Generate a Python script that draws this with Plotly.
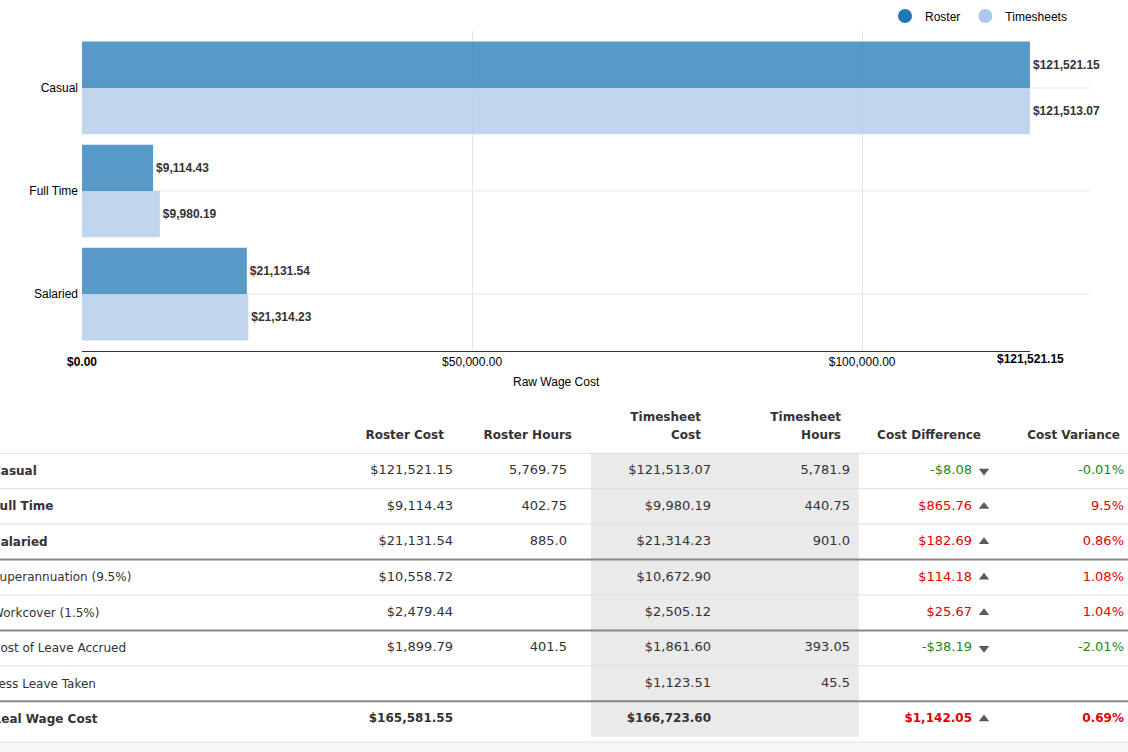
import plotly.graph_objects as go

# ---------------- data ----------------
categories = ["Casual", "Full Time", "Salaried"]
roster = [121521.15, 9114.43, 21131.54]
timesheets = [121513.07, 9980.19, 21314.23]
x_ticks = [0, 50000, 100000]

row_labels = ["Casual", "Full Time", "Salaried", "Superannuation (9.5%)",
              "Workcover (1.5%)", "Cost of Leave Accrued", "Less Leave Taken",
              "Real Wage Cost"]
label_bold = [True, True, True, False, False, False, False, True]
total_row = [False, False, False, False, False, False, False, True]
roster_cost = [121521.15, 9114.43, 21131.54, 10558.72, 2479.44, 1899.79, None, 165581.55]
roster_hours = [5769.75, 402.75, 885.0, None, None, 401.5, None, None]
timesheet_cost = [121513.07, 9980.19, 21314.23, 10672.90, 2505.12, 1861.60, 1123.51, 166723.60]
timesheet_hours = [5781.9, 440.75, 901.0, None, None, 393.05, 45.5, None]
cost_diff = [-8.08, 865.76, 182.69, 114.18, 25.67, -38.19, None, 1142.05]
cost_variance = [-0.01, 9.5, 0.86, 1.08, 1.04, -2.01, None, 0.69]
header_line1 = ["", "", "Timesheet", "Timesheet", "", ""]
header_line2 = ["Roster Cost", "Roster Hours", "Cost", "Hours", "Cost Difference", "Cost Variance"]
group_breaks = [2, 4, 6]

# ---------------- layout constants ----------------
W, H = 1128, 752
FONT_CHART = "Liberation Sans, Arial, sans-serif"
FONT_TABLE = "DejaVu Sans, Verdana, sans-serif"
TXT = "#333333"
RED = "#e00000"
GREEN = "#1a8a1a"


def fx(p):
    return p / W


def fy(p):
    return 1 - p / H


def money(v):
    if v is None:
        return ""
    return f"${v:,.2f}" if v >= 0 else f"-${-v:,.2f}"


def hours(v):
    return "" if v is None else f"{v:,}"


def pct(v):
    return "" if v is None else f"{v:g}%"


fig = go.Figure()

# ---------------- bar chart ----------------
for nm, vals, col in [("Roster", roster, "#1f77b4"), ("Timesheets", timesheets, "#aec7e8")]:
    fig.add_trace(go.Bar(
        y=categories, x=vals, orientation="h", name=nm,
        marker=dict(color=col, opacity=0.75, line=dict(width=0)),
        texttemplate="<b>%{x:$,.2f}</b>", textposition="outside",
        textfont=dict(family=FONT_CHART, size=12, color=TXT),
        cliponaxis=False, constraintext="none", showlegend=False, hoverinfo="x",
    ))
for nm, col in [("Roster", "#1f77b4"), ("Timesheets", "#aec7e8")]:
    fig.add_trace(go.Scatter(x=[None], y=[None], mode="markers", name=nm,
                             marker=dict(symbol="circle", size=14, color=col)))

max_val = max(roster + timesheets)
ncat = len(categories)

shapes = []
for c in categories:
    shapes.append(dict(type="line", xref="paper", yref="y", x0=fx(82), x1=fx(1090),
                       y0=c, y1=c, line=dict(color="#e5e5e5", width=1), layer="below"))

annotations = [
    dict(x=max_val, xref="x", y=fy(359), yref="paper", text=f"<b>{money(max_val)}</b>",
         showarrow=False, font=dict(family=FONT_CHART, size=12, color="#000"),
         xanchor="center", yanchor="middle"),
    dict(x=0.5, xref="x domain", y=fy(382), yref="paper", text="Raw Wage Cost",
         showarrow=False, font=dict(family=FONT_CHART, size=12, color="#000"),
         xanchor="center", yanchor="middle"),
]

# ---------------- table ----------------
n = len(row_labels)
rows = list(range(n))


def bold(t, b):
    return f"<b>{t}</b>" if (b and t) else t


def add_text(xpos, texts, colors=None, sizes=None, pos="middle left", yvals=None):
    yv = rows if yvals is None else yvals
    fig.add_trace(go.Scatter(
        x=[xpos] * len(texts), y=yv, mode="text", text=texts, textposition=pos,
        textfont=dict(family=FONT_TABLE, size=sizes if sizes is not None else 13,
                      color=colors if colors is not None else TXT),
        xaxis="x2", yaxis="y2", showlegend=False, hoverinfo="skip", cliponaxis=False,
    ))


num_sizes = [12 if b else 13 for b in total_row]

# row labels: the page is scrolled so their first letter sits past the left edge
for i, (t, b) in enumerate(zip(row_labels, label_bold)):
    annotations.append(dict(
        x=0, xref="x2", y=i, yref="y2", text=bold(t, b), showarrow=False,
        xanchor="left", yanchor="middle", xshift=-10.5,
        font=dict(family=FONT_TABLE, size=12, color=TXT)))

add_text(453, [bold(money(v), b) for v, b in zip(roster_cost, total_row)], sizes=num_sizes)
add_text(567, [hours(v) for v in roster_hours])
add_text(711, [bold(money(v), b) for v, b in zip(timesheet_cost, total_row)], sizes=num_sizes)
add_text(850, [hours(v) for v in timesheet_hours])
add_text(972, [bold(money(v), b) for v, b in zip(cost_diff, total_row)],
         colors=[(GREEN if (v is not None and v < 0) else RED) for v in cost_diff],
         sizes=num_sizes)
add_text(1124, [bold(pct(v), b) for v, b in zip(cost_variance, total_row)],
         colors=[(GREEN if (v is not None and v < 0) else RED) for v in cost_variance],
         sizes=num_sizes)

# arrows
arrow_rows = [i for i, v in enumerate(cost_diff) if v is not None]
fig.add_trace(go.Scatter(
    x=[984] * len(arrow_rows), y=arrow_rows, mode="markers",
    marker=dict(symbol=["triangle-down" if cost_diff[i] < 0 else "triangle-up" for i in arrow_rows],
                size=9, color="#5a5a5a"),
    xaxis="x2", yaxis="y2", showlegend=False, hoverinfo="skip",
))

# headers
header_x = [444, 572, 701, 841, 981, 1120]
for hx, l1, l2 in zip(header_x, header_line1, header_line2):
    add_text(hx, [f"<b>{l2}</b>"], sizes=12, yvals=[-1])
    if l1:
        add_text(hx, [f"<b>{l1}</b>"], sizes=12, yvals=[-1.5])

# shaded timesheet columns
shapes.append(dict(type="rect", xref="x2", yref="y2", x0=591, x1=859, y0=-0.5, y1=n - 0.5,
                   fillcolor="#eaeaea", line=dict(width=0), layer="below"))
# bottom strip
shapes.append(dict(type="rect", xref="paper", yref="y2", x0=0, x1=1, y0=n - 0.35, y1=n + 2,
                   fillcolor="#f6f7f8", line=dict(width=0), layer="below"))
# row separators
for i in range(-1, n - 1):
    thick = i in group_breaks
    shapes.append(dict(type="line", xref="paper", yref="y2", x0=0, x1=1, y0=i + 0.5, y1=i + 0.5,
                       line=dict(color="#888888" if thick else "#dddddd", width=2 if thick else 1)))
shapes.append(dict(type="line", xref="paper", yref="y2", x0=0, x1=1, y0=n - 0.35, y1=n - 0.35,
                   line=dict(color="#dde1e4", width=1)))

row_px = 35.43
first_row_px = 471
tbl_top_px = 400

fig.update_layout(
    width=W, height=H, margin=dict(l=0, r=0, t=0, b=0, autoexpand=False),
    paper_bgcolor="white", plot_bgcolor="white",
    barmode="group", bargap=0.1, bargroupgap=0,
    font=dict(family=FONT_CHART, size=12, color="#000"),
    xaxis=dict(domain=[fx(82), fx(1030)], range=[0, max_val], anchor="y", automargin=False,
               tickvals=x_ticks,
               ticktext=[f"<b>{money(v)}</b>" if v == 0 else money(v) for v in x_ticks],
               showgrid=True, gridcolor="#e5e5e5", gridwidth=1, zeroline=False,
               showline=True, linecolor="#333333", linewidth=1, ticks="",
               tickfont=dict(family=FONT_CHART, size=12, color="#000"), fixedrange=True),
    yaxis=dict(domain=[fy(351), fy(31)], type="category", categoryorder="array",
               categoryarray=categories, range=[ncat - 0.447, -0.553], anchor="x",
               automargin=False, ticklabelstandoff=3,
               showgrid=False, zeroline=False, showline=False, ticks="",
               tickfont=dict(family=FONT_CHART, size=12, color="#000"), fixedrange=True),
    xaxis2=dict(domain=[0, 1], range=[0, W], visible=False, anchor="y2", fixedrange=True,
                automargin=False),
    yaxis2=dict(domain=[0, fy(tbl_top_px)],
                range=[(H - first_row_px) / row_px, (tbl_top_px - first_row_px) / row_px],
                visible=False, anchor="x2", fixedrange=True, automargin=False),
    legend=dict(orientation="h", x=fx(1072), xanchor="right", y=fy(16), yanchor="middle",
                font=dict(family=FONT_CHART, size=12, color="#000"),
                bgcolor="rgba(0,0,0,0)", itemwidth=30, tracegroupgap=0),
    shapes=shapes,
    annotations=annotations,
)

fig.write_html("out.html", config={"displayModeBar": False},
               post_script="document.body.style.margin='0px';")
